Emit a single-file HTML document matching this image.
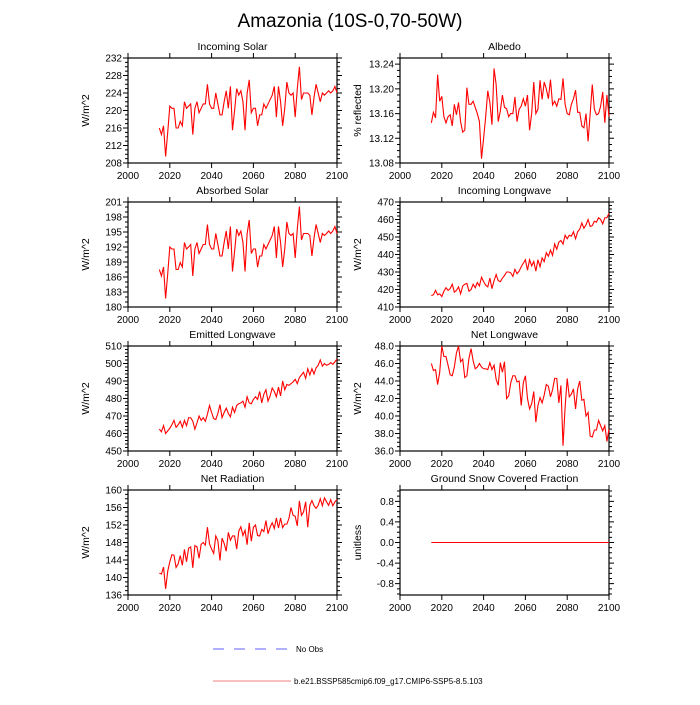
<!DOCTYPE html>
<html><head><meta charset="utf-8"><style>
body{margin:0;background:#fff;width:700px;height:700px;overflow:hidden;font-family:"Liberation Sans",sans-serif}
</style></head><body>
<svg id="c" width="700" height="700" xmlns="http://www.w3.org/2000/svg" font-family="Liberation Sans, sans-serif">
<text x="350" y="27" font-size="19" text-anchor="middle">Amazonia (10S-0,70-50W)</text>
<g>
<line x1="213" y1="649" x2="288" y2="649" stroke="#6060ff" stroke-width="1" stroke-dasharray="11,10"/>
<text x="296" y="652" font-size="8">No Obs</text>
<line x1="213" y1="681" x2="291" y2="681" stroke="#f08080" stroke-width="1"/>
<text x="294" y="684" font-size="8">b.e21.BSSP585cmip6.f09_g17.CMIP6-SSP5-8.5.103</text>
</g>
</svg>
<script>
const startYear = 2015;
const xTicks = [2000, 2020, 2040, 2060, 2080, 2100];
const incomingSolar = [216,214.5,216.5,209.5,215,221,220.5,220.5,216,216,217.5,216.5,222,220.5,221,221.5,214.5,220.5,222,219.5,220.5,221.5,221.5,226,221.5,220.5,220.5,224,221.5,219,219,222,224.5,220.5,225.5,215.5,220,225,223.5,224.5,222,215.5,224,227,219.5,220.5,220.5,216.5,219,219,221.5,220.5,221.5,222.5,223.5,225.5,218.5,225.5,222,216.5,220.5,226.5,224,223.5,224,218.5,225,230,222.5,224,224,224,223.5,219,223,226,224,222,224,223.5,224,224.5,224,224.5,225.5,224];
const albedo = [13.145,13.162,13.153,13.223,13.18,13.188,13.155,13.145,13.155,13.158,13.14,13.175,13.158,13.178,13.147,13.13,13.133,13.202,13.175,13.175,13.18,13.17,13.16,13.147,13.087,13.12,13.155,13.197,13.178,13.142,13.233,13.207,13.147,13.164,13.19,13.17,13.168,13.155,13.16,13.16,13.187,13.147,13.167,13.172,13.184,13.172,13.19,13.133,13.16,13.211,13.16,13.167,13.214,13.183,13.211,13.2,13.184,13.215,13.174,13.18,13.172,13.184,13.183,13.217,13.175,13.16,13.158,13.175,13.184,13.198,13.162,13.162,13.14,13.137,13.16,13.115,13.16,13.207,13.167,13.158,13.16,13.172,13.195,13.145,13.19,13.155];
const absorbedSolar = [187.5,186.2,188,181.7,186.6,192,191.6,191.6,187.5,187.5,188.9,188,192.9,191.6,192,192.5,186.2,191.6,192.9,190.7,191.6,192.5,192.5,196.5,192.5,191.6,191.6,194.7,192.5,190.2,190.2,192.9,195.2,191.6,196.1,187.1,191.1,195.6,194.3,195.2,192.9,187.1,194.7,197.4,190.7,191.6,191.6,188,190.2,190.2,192.5,191.6,192.5,193.4,194.3,196.1,189.8,196.1,192.9,188,191.6,197,194.7,194.3,194.7,189.8,195.6,200.1,193.4,194.7,194.7,194.7,194.3,190.2,193.8,196.5,194.7,192.9,194.7,194.3,194.7,195.2,194.7,195.2,196.1,194.7];
const incomingLongwave = [416.5,417,419.5,417,417.5,416,419,421,419.5,420.5,423,418.5,419.5,421.5,417.5,422,423,423.5,419,420,423,421,424,422,427,424.5,422.5,421.5,426.5,420.5,425,428.5,425,424.5,426.5,428,430,430,429.5,427.5,431.5,429,430.5,433,435,437,431,437,433.5,436,430.5,437,433,438,436,441,439,442.5,439.5,446,443,447,448,446,451,449,451,450.5,453,449,453,454.5,458,455,457,460,456,456.5,459,458.5,461,460,457.5,461,461,463.5];
const emittedLongwave = [462.5,461,464.5,460,461.5,463,465,467.5,463.5,465,467,463.5,467.5,464.5,469,469,467,462.5,466,470,467.5,469,467,471,476,472,468.5,468,471.5,476.5,469,472,474.5,471.5,469.5,475,472,476,477,477.5,478.5,475,481,477.5,477,479.5,481,479.5,484,477.5,482.5,485,478.5,481.5,486,484,481,486.5,481.5,490,485,488,487.5,488.5,489.5,491,488.5,492,493.5,495,491.5,497,493.5,497,494,497.5,499,502,498.5,500,499,499.5,500.5,499.5,501,502.5];
const netLongwave = [46,45.2,45.3,43.6,45,48,46.8,46.8,45.8,44.7,44.6,45.6,47.2,48,46.2,46.5,44.4,44.6,46.6,47.7,46.3,45.4,45.6,46,45.6,45.4,45.4,45.3,46.1,45.3,45.8,44.2,43.5,46.1,45,46.2,42,42.3,43.8,44.6,44.6,43.9,44,41.2,43.8,44.6,42,40.8,41.4,42.8,39.3,41.2,42.1,41.5,42.4,43.6,43.4,42.2,43,44.3,44.3,41.5,43.5,36.6,41,44.3,42.2,42.5,43.1,40.8,43.1,44,41.8,41.9,40,40.4,37.7,37.6,38.4,38.4,39.5,38.9,38.3,38.9,37.1,38.5];
const netRadiation = [141,140.8,142.4,137.4,141.4,143.6,145.2,145.1,142.3,143.1,145,142.8,146.4,143.6,146.7,147,142.2,147.3,147,144.4,147.6,148,147.4,151.5,147.7,146.5,145.5,149.5,148.4,143.9,149,147.8,146,150.3,148.5,149.5,149.5,146.5,150.6,151.6,149.6,150.8,147.5,152.5,148.3,151.5,152,149.6,149.5,151,150.5,153,150,151.5,152.5,151.2,153.6,151.3,153.6,151.4,152.2,152.2,153.5,156,154.2,154,151.8,157.5,154.2,155,157.3,151.5,156.5,157.6,156.4,155.8,156.5,158,156.4,158.2,157.3,156.5,157.8,156.4,157.3,157.8];
const snowFraction = [0,0,0,0,0,0,0,0,0,0,0,0,0,0,0,0,0,0,0,0,0,0,0,0,0,0,0,0,0,0,0,0,0,0,0,0,0,0,0,0,0,0,0,0,0,0,0,0,0,0,0,0,0,0,0,0,0,0,0,0,0,0,0,0,0,0,0,0,0,0,0,0,0,0,0,0,0,0,0,0,0,0,0,0,0,0];
const tickIncomingSolar = ["208","212","216","220","224","228","232"];
const tickAlbedo = ["13.08","13.12","13.16","13.20","13.24"];
const tickAbsorbed = ["180","183","186","189","192","195","198","201"];
const tickInLW = ["410","420","430","440","450","460","470"];
const tickEmitLW = ["450","460","470","480","490","500","510"];
const tickNetLW = ["36.0","38.0","40.0","42.0","44.0","46.0","48.0"];
const tickNetRad = ["136","140","144","148","152","156","160"];
const tickSnow = ["-0.8","-0.4","0.0","0.4","0.8"];

const svg = document.getElementById('c');
const NS = 'http://www.w3.org/2000/svg';
function mk(tag, attrs, parent){const e=document.createElementNS(NS,tag);for(const k in attrs)e.setAttribute(k,attrs[k]);parent.appendChild(e);return e;}

function panel(key, title, ytitle, x0, y0, data, ticks, ymin, ymax, minorPer){
  const w=209, h=105;
  const g=mk('g',{},svg);
  
  
  const xs=v=>x0+(v-2000)/100*w;
  const ys=v=>y0+h-(v-ymin)/(ymax-ymin)*h;
  const t=mk('text',{x:x0+w/2,y:y0-8,'font-size':10.5,'text-anchor':'middle'},g);
  t.textContent=title;
  
  
  const yt=mk('text',{x:0,y:0,'font-size':10.5,'text-anchor':'middle',transform:`translate(${x0-39},${y0+h/2}) rotate(-90)`},g);
  yt.textContent=ytitle;
  
  
  let d='';
  xTicks.forEach(v=>{
    const X=xs(v);
    d+=`M${X},${y0+h}v5M${X},${y0}v-5`;
    const tx=mk('text',{x:X,y:y0+h+16,'font-size':10,'text-anchor':'middle'},g);
    tx.textContent=v;
    
    
  });
  const n=ticks.length;
  const ti0=parseFloat(ticks[0]), ti1=parseFloat(ticks[n-1]);
  const step=(ti1-ti0)/(n-1);
  for(let i=0;i<n;i++){
    const v=ti0+i*step; const Y=ys(v);
    d+=`M${x0},${Y}h-5M${x0+w},${Y}h5`;
    const tl=mk('text',{x:x0-6,y:Y+3.5,'font-size':10,'text-anchor':'end'},g);
    tl.textContent=ticks[i];
    
    
  }
  const ms=step/minorPer;
  for(let v=ti0-step; v<=ti1+step+1e-9; v+=ms){
    if(v<ymin-1e-9||v>ymax+1e-9) continue;
    const Y=ys(v);
    d+=`M${x0},${Y}h-3M${x0+w},${Y}h3`;
  }
  mk('path',{d:d,stroke:'#000','stroke-width':1,fill:'none'},g);
  const fr=mk('rect',{x:x0,y:y0,width:w,height:h,fill:'none',stroke:'#000','stroke-width':1.2},g);
  
  
  const pts=data.map((v,i)=>xs(startYear+i).toFixed(2)+','+ys(v).toFixed(2)).join(' ');
  const ln=mk('polyline',{points:pts,fill:'none',stroke:'#ff0000','stroke-width':1.1},g);
  
  
}
panel('incoming-solar','Incoming Solar','W/m^2',128,58,incomingSolar,tickIncomingSolar,208,232,4);
panel('albedo','Albedo','% reflected',400,58,albedo,tickAlbedo,13.08,13.25,4);
panel('absorbed-solar','Absorbed Solar','W/m^2',128,202,absorbedSolar,tickAbsorbed,180,201,3);
panel('incoming-longwave','Incoming Longwave','W/m^2',400,202,incomingLongwave,tickInLW,410,470,5);
panel('emitted-longwave','Emitted Longwave','W/m^2',128,346,emittedLongwave,tickEmitLW,450,510,5);
panel('net-longwave','Net Longwave','W/m^2',400,346,netLongwave,tickNetLW,36,48,4);
panel('net-radiation','Net Radiation','W/m^2',128,490,netRadiation,tickNetRad,136,160,4);
panel('snow-fraction','Ground Snow Covered Fraction','unitless',400,490,snowFraction,tickSnow,-1.02,1.02,4);
</script>
</body></html>
